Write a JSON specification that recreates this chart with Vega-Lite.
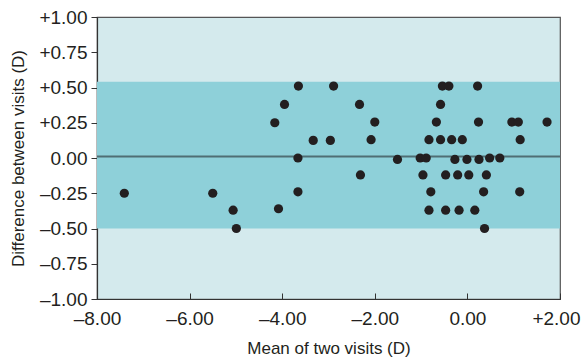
{
  "$schema": "https://vega.github.io/schema/vega-lite/v6.json",
  "autosize": {"type": "none"},
  "width": 463,
  "height": 282,
  "padding": {"left": 97, "top": 17, "right": 21, "bottom": 62},
  "background": "white",
  "view": {"fill": "#d4eaed", "stroke": "#555", "strokeWidth": 1.2},
  "config": {
    "font": "Liberation Sans",
    "axis": {"labelFont": "Liberation Sans", "titleFont": "Liberation Sans", "labelFontSize": 19, "titleFontSize": 17, "titleFontWeight": "normal", "labelColor": "#231f20", "titleColor": "#231f20", "domainColor": "#333", "tickColor": "#333", "grid": false, "domainWidth": 1.2, "labelOverlap": false, "labelFlush": false}
  },
  "datasets": {
    "pts": [
      {"mean": -7.41, "diff": -0.25},
      {"mean": -5.50, "diff": -0.25},
      {"mean": -5.06, "diff": -0.37},
      {"mean": -4.99, "diff": -0.50},
      {"mean": -4.08, "diff": -0.36},
      {"mean": -4.16, "diff": 0.25},
      {"mean": -3.95, "diff": 0.38},
      {"mean": -3.65, "diff": 0.51},
      {"mean": -3.66, "diff": 0.0},
      {"mean": -3.66, "diff": -0.24},
      {"mean": -3.33, "diff": 0.125},
      {"mean": -2.96, "diff": 0.125},
      {"mean": -2.89, "diff": 0.51},
      {"mean": -2.33, "diff": 0.38},
      {"mean": -2.00, "diff": 0.255},
      {"mean": -2.08, "diff": 0.13},
      {"mean": -2.31, "diff": -0.12},
      {"mean": -1.51, "diff": -0.01},
      {"mean": -0.54, "diff": 0.51},
      {"mean": -0.40, "diff": 0.51},
      {"mean": 0.22, "diff": 0.51},
      {"mean": -0.58, "diff": 0.38},
      {"mean": -0.67, "diff": 0.255},
      {"mean": 0.24, "diff": 0.255},
      {"mean": 0.96, "diff": 0.255},
      {"mean": 1.10, "diff": 0.255},
      {"mean": 1.72, "diff": 0.255},
      {"mean": -0.83, "diff": 0.13},
      {"mean": -0.58, "diff": 0.13},
      {"mean": -0.34, "diff": 0.13},
      {"mean": -0.11, "diff": 0.13},
      {"mean": 1.14, "diff": 0.13},
      {"mean": -1.02, "diff": 0.0},
      {"mean": -0.89, "diff": 0.0},
      {"mean": -0.27, "diff": -0.01},
      {"mean": -0.01, "diff": -0.01},
      {"mean": 0.25, "diff": -0.01},
      {"mean": 0.48, "diff": 0.0},
      {"mean": 0.70, "diff": 0.0},
      {"mean": -0.96, "diff": -0.12},
      {"mean": -0.47, "diff": -0.12},
      {"mean": -0.21, "diff": -0.12},
      {"mean": 0.03, "diff": -0.12},
      {"mean": 0.41, "diff": -0.12},
      {"mean": -0.79, "diff": -0.24},
      {"mean": 0.35, "diff": -0.24},
      {"mean": 1.13, "diff": -0.24},
      {"mean": -0.83, "diff": -0.37},
      {"mean": -0.47, "diff": -0.37},
      {"mean": -0.18, "diff": -0.37},
      {"mean": 0.16, "diff": -0.37},
      {"mean": 0.37, "diff": -0.50}
    ],
    "band": [{"lo": -0.50, "hi": 0.54, "mid": 0.01}]
  },
  "layer": [
    {
      "data": {"name": "band"},
      "mark": {"type": "rect", "color": "#8ed0d9"},
      "encoding": {
        "y": {
          "field": "lo", "type": "quantitative",
          "scale": {"domain": [-1, 1], "nice": false},
          "axis": {"values": [-1, -0.75, -0.5, -0.25, 0, 0.25, 0.5, 0.75, 1], "title": "Difference between visits (D)", "tickSize": 6, "labelPadding": 4, "titleX": -70, "labelOverlap": false, "labelFlush": false, "labelFontSize": 19, "titleFontSize": 17,
            "labelExpr": "datum.value > 0 ? '+' + format(datum.value, '.2f') : datum.value < 0 ? '–' + format(-datum.value, '.2f') : '0.00'"}
        },
        "y2": {"field": "hi"}
      }
    },
    {
      "data": {"name": "band"},
      "mark": {"type": "rule", "color": "#4f6e74", "strokeWidth": 2},
      "encoding": {
        "y": {
          "field": "mid", "type": "quantitative",
          "scale": {"domain": [-1, 1], "nice": false},
          "axis": {"values": [-1, -0.75, -0.5, -0.25, 0, 0.25, 0.5, 0.75, 1], "title": "Difference between visits (D)", "tickSize": 6, "labelPadding": 4, "titleX": -70, "labelOverlap": false, "labelFlush": false, "labelFontSize": 19, "titleFontSize": 17,
            "labelExpr": "datum.value > 0 ? '+' + format(datum.value, '.2f') : datum.value < 0 ? '–' + format(-datum.value, '.2f') : '0.00'"}
        }
      }
    },
    {
      "data": {"name": "pts"},
      "mark": {"type": "circle", "color": "#231f20", "opacity": 1, "size": 85},
      "encoding": {
        "x": {
          "field": "mean", "type": "quantitative",
          "scale": {"domain": [-8, 2], "nice": false, "zero": false},
          "axis": {"values": [-8, -6, -4, -2, 0, 2], "title": "Mean of two visits (D)", "tickSize": -6, "labelPadding": 16, "titleY": 41, "titleBaseline": "top", "labelOverlap": false, "labelFlush": false, "labelFontSize": 19, "titleFontSize": 17,
            "labelAlign": {"condition": {"test": "datum.value == 2", "value": "right"}, "value": "center"},
            "labelOffset": {"condition": {"test": "datum.value == 2", "value": 20}, "value": 0},
            "labelExpr": "datum.value > 0 ? '+' + format(datum.value, '.2f') : datum.value < 0 ? '–' + format(-datum.value, '.2f') : '0.00'"}
        },
        "y": {
          "field": "diff", "type": "quantitative",
          "scale": {"domain": [-1, 1], "nice": false},
          "axis": {"values": [-1, -0.75, -0.5, -0.25, 0, 0.25, 0.5, 0.75, 1], "title": "Difference between visits (D)", "tickSize": 6, "labelPadding": 4, "titleX": -70, "labelOverlap": false, "labelFlush": false, "labelFontSize": 19, "titleFontSize": 17,
            "labelExpr": "datum.value > 0 ? '+' + format(datum.value, '.2f') : datum.value < 0 ? '–' + format(-datum.value, '.2f') : '0.00'"}
        }
      }
    }
  ]
}
